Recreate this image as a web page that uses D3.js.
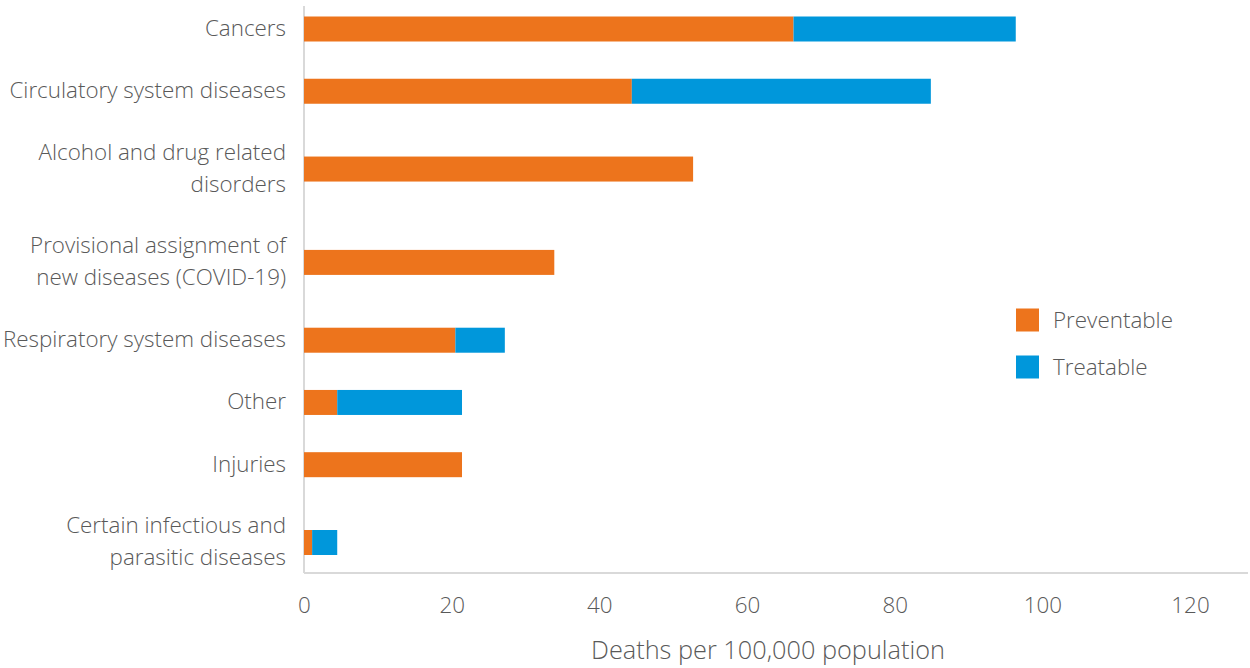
<!DOCTYPE html>
<html>
<head>
<meta charset="utf-8">
<script src="https://cdn.jsdelivr.net/npm/d3@7"></script>
<style>
  html, body { margin: 0; padding: 0; background: #ffffff; }
  svg { display: block; }
  text { font-family: "Open Sans", "Segoe UI", sans-serif; font-weight: 300; fill: #595959; }
</style>
</head>
<body>
<svg id="chart" width="1250" height="668"></svg>
<script>
// Categories (a "\n" marks where a label wraps onto a second line)
const categories = [
  "Cancers",
  "Circulatory system diseases",
  "Alcohol and drug related\ndisorders",
  "Provisional assignment of\nnew diseases (COVID-19)",
  "Respiratory system diseases",
  "Other",
  "Injuries",
  "Certain infectious and\nparasitic diseases"
];
const seriesNames = ["Preventable", "Treatable"];
const preventable = [66.3, 44.4, 52.7, 33.9, 20.5, 4.5, 21.4, 1.1];
const treatable   = [30.1, 40.5, 0, 0, 6.7, 16.9, 0, 3.4];
const xTicks = [0, 20, 40, 60, 80, 100, 120];
const xTitle = "Deaths per 100,000 population";
const colors = ["#ED741C", "#0097DB"];

const svg = d3.select("#chart");

const plot = { left: 304, right: 1248, top: 6, bottom: 573 };

// x: tick 0 at the axis, tick 120 near the right end of the axis line
const x = d3.scaleLinear().domain([0, 120]).range([304, 1190]);

// Rows whose label wraps get more vertical room than single-line rows
const lines = categories.map(c => c.split("\n"));
const weights = lines.map(l => l.length > 1 ? 1.5 : 1);
const cum = [];
weights.reduce((acc, w, i) => { cum[i] = acc + w / 2; return acc + w; }, 0);
const yPos = d3.scaleLinear().domain([0.5, cum[cum.length - 1]]).range([29, 542.5]);
const barH = 25;

const rows = categories.map((c, i) => ({
  cat: c, lines: lines[i], center: yPos(cum[i]),
  values: [preventable[i], treatable[i]]
}));

// stacked segments
const stack = d3.stack().keys([0, 1]).value((d, k) => d.values[k]);
const stacked = stack(rows);

// axis lines
svg.append("line")
  .attr("x1", plot.left).attr("x2", plot.left)
  .attr("y1", plot.top).attr("y2", plot.bottom)
  .attr("stroke", "#d9d9d9").attr("stroke-width", 2);
svg.append("line")
  .attr("x1", plot.left).attr("x2", plot.right)
  .attr("y1", plot.bottom).attr("y2", plot.bottom)
  .attr("stroke", "#d9d9d9").attr("stroke-width", 2);

// bars
stacked.forEach((layer, k) => {
  svg.append("g").attr("fill", colors[k])
    .selectAll("rect")
    .data(layer.filter(s => s[1] - s[0] > 0))
    .join("rect")
    .attr("x", s => x(s[0]))
    .attr("width", s => x(s[1]) - x(s[0]))
    .attr("y", s => s.data.center - barH / 2)
    .attr("height", barH);
});

// category labels
const lineGap = 32;
const labels = svg.append("g").attr("text-anchor", "end").attr("font-size", 22.4);
rows.forEach(r => {
  const n = r.lines.length;
  r.lines.forEach((ln, j) => {
    labels.append("text")
      .attr("x", 286)
      .attr("y", r.center - 1 + (j - (n - 1) / 2) * lineGap)
      .attr("dy", "0.35em")
      .text(ln);
  });
});

// x-axis tick labels
const xAxis = d3.axisBottom(x).tickValues(xTicks).tickSize(0).tickPadding(0);
const gx = svg.append("g").attr("transform", `translate(0,${plot.bottom})`).call(xAxis);
gx.select(".domain").remove();
gx.selectAll("text")
  .attr("y", 32)
  .attr("dy", "0.35em")
  .attr("font-size", 22.4)
  .style("font-family", "\"Open Sans\", sans-serif")
  .style("font-weight", 300)
  .attr("fill", "#595959");

// axis title
svg.append("text")
  .attr("x", 768).attr("y", 650)
  .attr("dy", "0.35em")
  .attr("text-anchor", "middle")
  .attr("font-size", 25.3)
  .text(xTitle);

// legend
const legend = svg.append("g");
seriesNames.forEach((name, k) => {
  const cy = 320 + k * 47;
  legend.append("rect")
    .attr("x", 1016).attr("y", cy - 11.5)
    .attr("width", 23).attr("height", 23)
    .attr("fill", colors[k]);
  legend.append("text")
    .attr("x", 1053).attr("y", cy)
    .attr("dy", "0.35em")
    .attr("font-size", 22.4)
    .text(name);
});
</script>
</body>
</html>
